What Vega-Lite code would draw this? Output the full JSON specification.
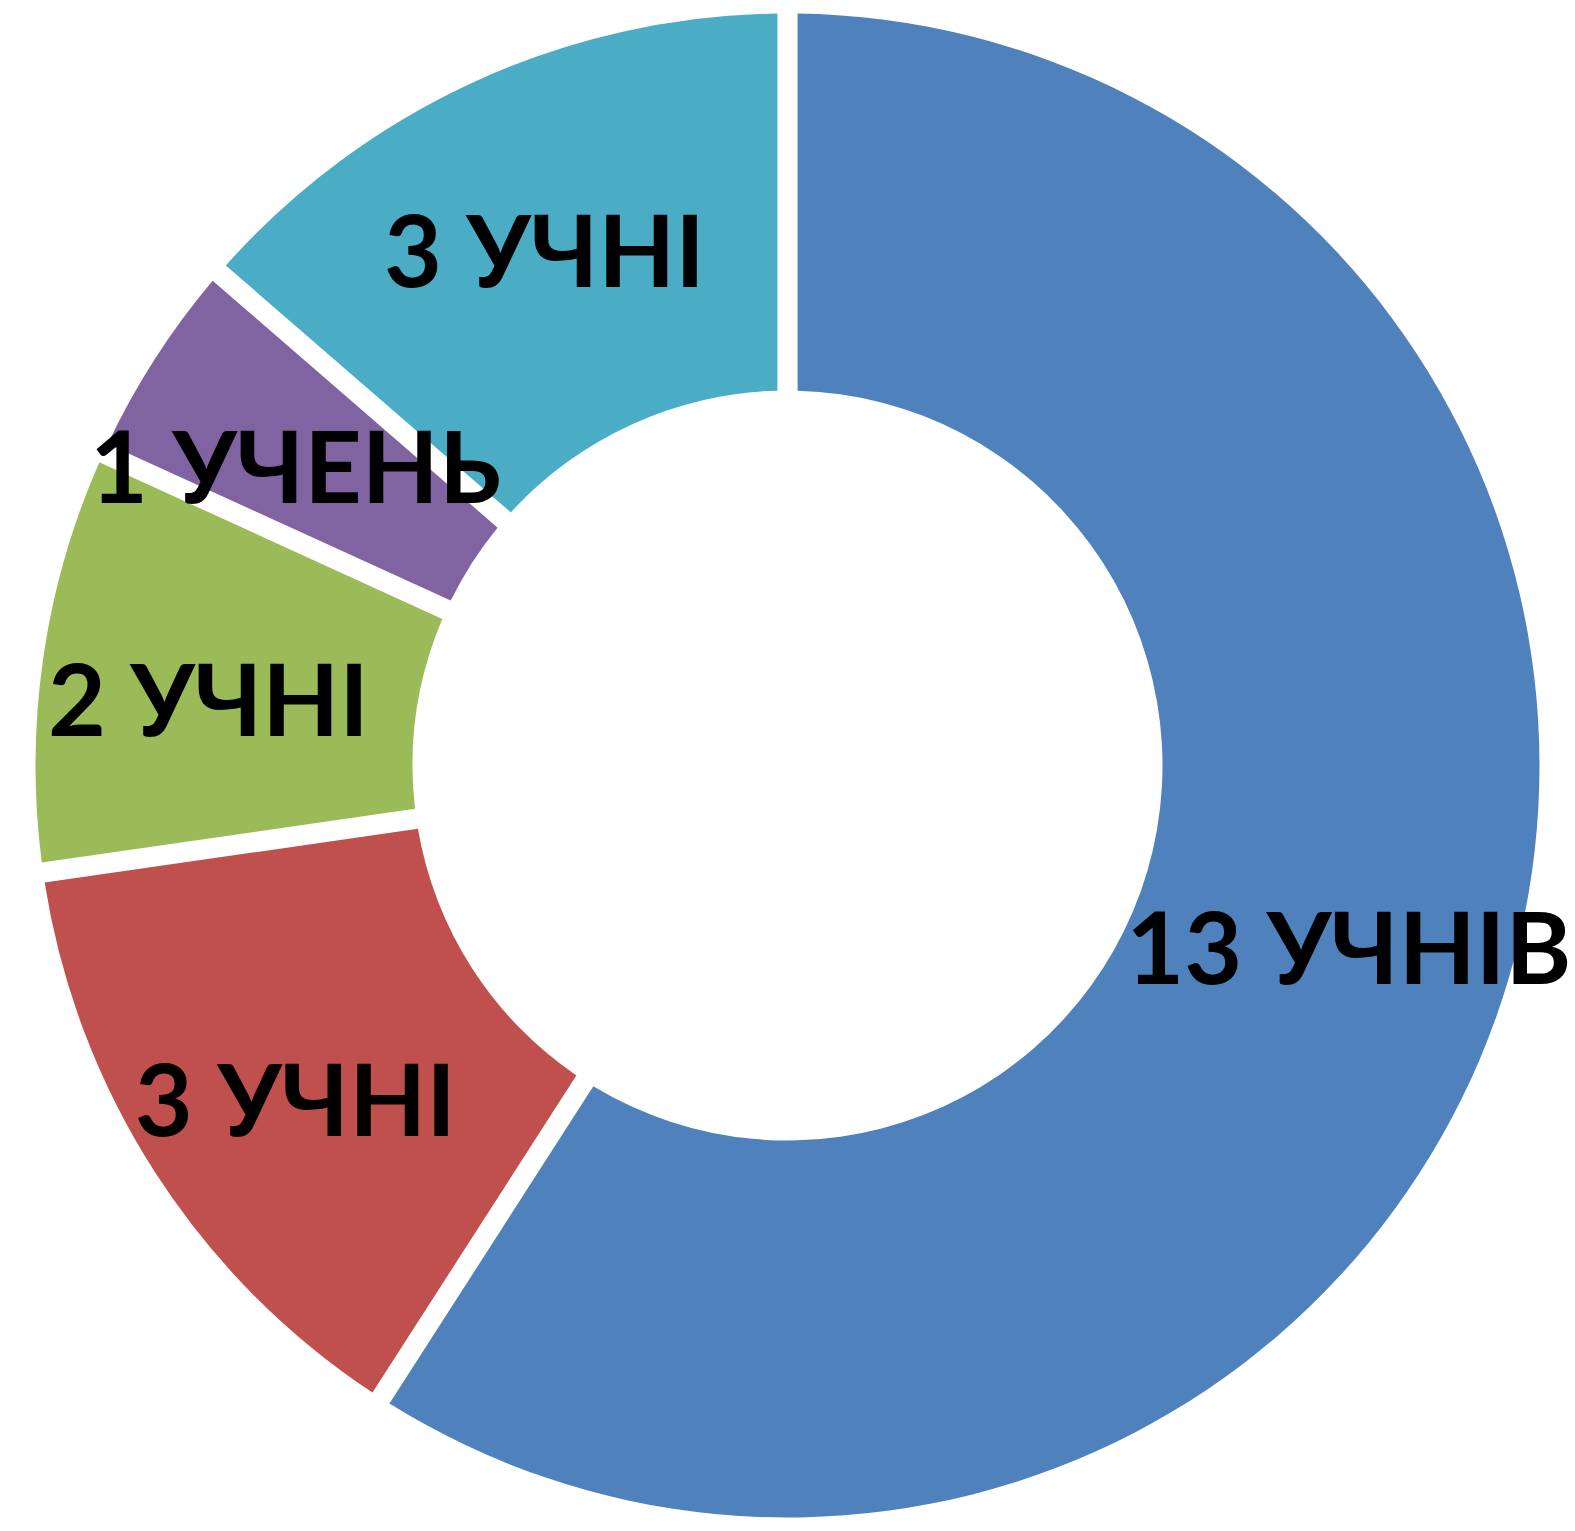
{
  "$schema": "https://vega.github.io/schema/vega-lite/v6.json",
  "width": 1575,
  "height": 1531,
  "autosize": {"type": "fit", "contains": "padding"},
  "padding": 0,
  "background": "white",
  "view": {"stroke": null},
  "data": {
    "values": [
      {"k": 1, "segment": "s1", "label": "13 УЧНІВ", "n": 13},
      {"k": 2, "segment": "s2", "label": "3 УЧНІ", "n": 3},
      {"k": 3, "segment": "s3", "label": "2 УЧНІ", "n": 2},
      {"k": 4, "segment": "s4", "label": "1 УЧЕНЬ", "n": 1},
      {"k": 5, "segment": "s5", "label": "3  УЧНІ", "n": 3}
    ]
  },
  "encoding": {
    "theta": {"field": "n", "type": "quantitative", "stack": true},
    "order": {"field": "k", "type": "quantitative"}
  },
  "layer": [
    {
      "mark": {"type": "arc", "innerRadius": 375, "outerRadius": 752, "padAngle": 0.024},
      "encoding": {
        "color": {
          "field": "segment",
          "type": "nominal",
          "scale": {
            "domain": ["s1", "s2", "s3", "s4", "s5"],
            "range": ["#4F81BD", "#C0504D", "#9BBB59", "#8064A2", "#4BACC6"]
          },
          "legend": null
        }
      }
    },
    {
      "mark": {
        "type": "text",
        "radius": 585,
        "font": "Lato",
        "fontSize": 100,
        "fontWeight": "bold",
        "align": "center",
        "baseline": "middle",
        "dy": 24,
        "color": "black"
      },
      "encoding": {
        "text": {"field": "label", "type": "nominal"}
      }
    }
  ]
}
